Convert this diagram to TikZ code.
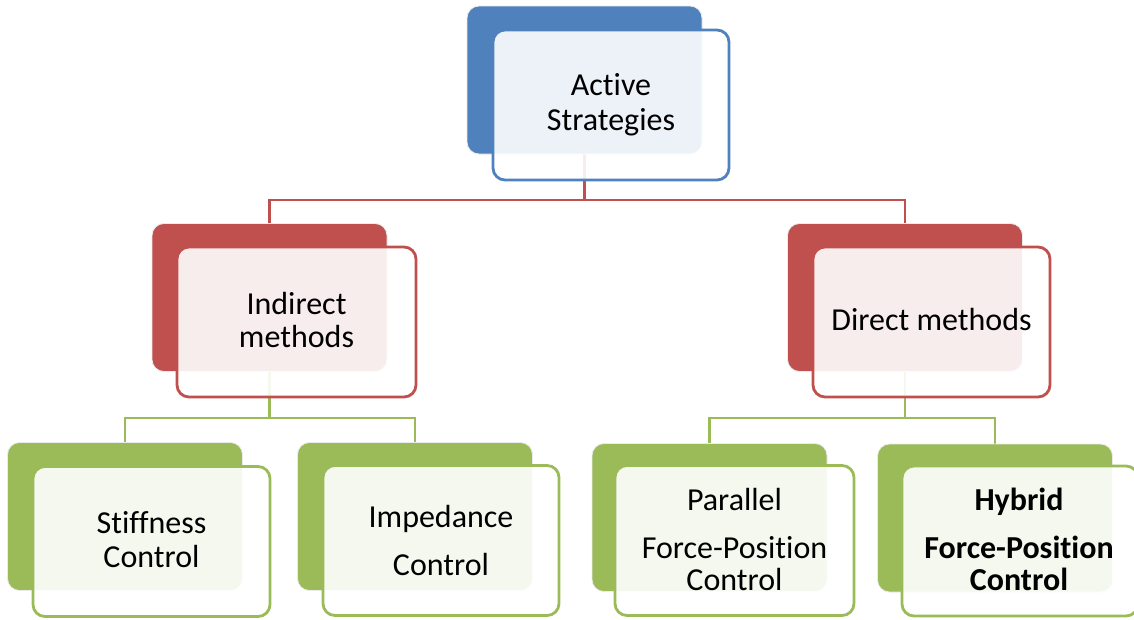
\documentclass[tikz,border=0pt]{standalone}
\usepackage{fontspec}
\setmainfont[Ligatures=NoCommon]{Carlito}
\usetikzlibrary{backgrounds}
\definecolor{oblue}{HTML}{4F81BD}
\definecolor{ored}{HTML}{C0504D}
\definecolor{ogreen}{HTML}{9BBB59}
\newcommand{\lblfont}{\fontsize{32}{35}\selectfont}
\newcommand{\lines}[1]{\begin{tabular}[t]{@{}c@{}}#1\end{tabular}}
\begin{document}
\begin{tikzpicture}[x=1pt,y=-1pt,
  backbox/.style={draw=black!8, line width=0.8pt, rounded corners=12pt,
    minimum width=235pt, minimum height=148pt, inner sep=0pt, fill=#1},
  frontbox/.style={draw=#1, line width=2.8pt, rounded corners=12pt,
    minimum width=236pt, minimum height=150pt, inner sep=0pt,
    fill=white, fill opacity=0.9},
  lbl/.style={anchor=base, inner sep=0pt, font=\lblfont, text=black},
  link/.style={draw=#1, line width=2.8pt}]
\useasboundingbox (0,0) rectangle (1134,619);

% level 0
\node[backbox=oblue] (topB) at (584.5,80) {};
\node[frontbox=oblue] (topF) at (611,105) {};
\node[lbl] (topL) at (611,95) {\lines{Active\\Strategies}};

% level 1
\node[backbox=ored] (indB) at (269.5,297.5) {};
\node[frontbox=ored, minimum width=239pt] (indF) at (296.5,322) {};
\node[lbl] (indL) at (296.5,314) {\lines{Indirect\\[-2pt]methods}};

\node[backbox=ored] (dirB) at (905,297.5) {};
\node[frontbox=ored, minimum width=237pt] (dirF) at (931.5,322) {};
\node[lbl] (dirL) at (931.5,330) {Direct methods};

% level 2
\node[backbox=ogreen] (stiB) at (125,516.5) {};
\node[frontbox=ogreen, minimum width=237pt] (stiF) at (151.5,541.5) {};
\node[lbl] (stiL) at (151.5,533) {\lines{Stiffness\\[-1pt]Control}};

\node[backbox=ogreen] (impB) at (415,516.5) {};
\node[frontbox=ogreen] (impF) at (441,540.5) {};
\node[lbl] (impL) at (441,527) {\lines{Impedance\\[13pt]Control}};

\node[backbox=ogreen] (parB) at (709.5,517.5) {};
\node[frontbox=ogreen, minimum width=239pt] (parF) at (734.5,540.5) {};
\node[lbl] (parL) at (734.5,510) {\lines{Parallel\\[13pt]Force-Position\\[-3pt]Control}};

\node[backbox=ogreen] (hybB) at (995,518) {};
\node[frontbox=ogreen] (hybF) at (1020,541) {};
\node[lbl, font=\lblfont\bfseries] (hybL) at (1019,510) {\lines{Hybrid\\[13pt]Force-Position\\[-3pt]Control}};

% connectors, drawn beneath the boxes
\begin{scope}[on background layer]
  \coordinate (busR) at (0,200);
  \coordinate (busG) at (0,418);
  \draw[link=ored] (topB.south) -- (topB.south |- busR) -| (indB.north);
  \draw[link=ored] (topB.south |- busR) -| (dirB.north);
  \draw[link=ogreen] (indB.south) -- (indB.south |- busG) -| (stiB.north);
  \draw[link=ogreen] (indB.south |- busG) -| (impB.north);
  \draw[link=ogreen] (dirB.south) -- (dirB.south |- busG) -| (parB.north);
  \draw[link=ogreen] (dirB.south |- busG) -| (hybB.north);
\end{scope}
\end{tikzpicture}
\end{document}
